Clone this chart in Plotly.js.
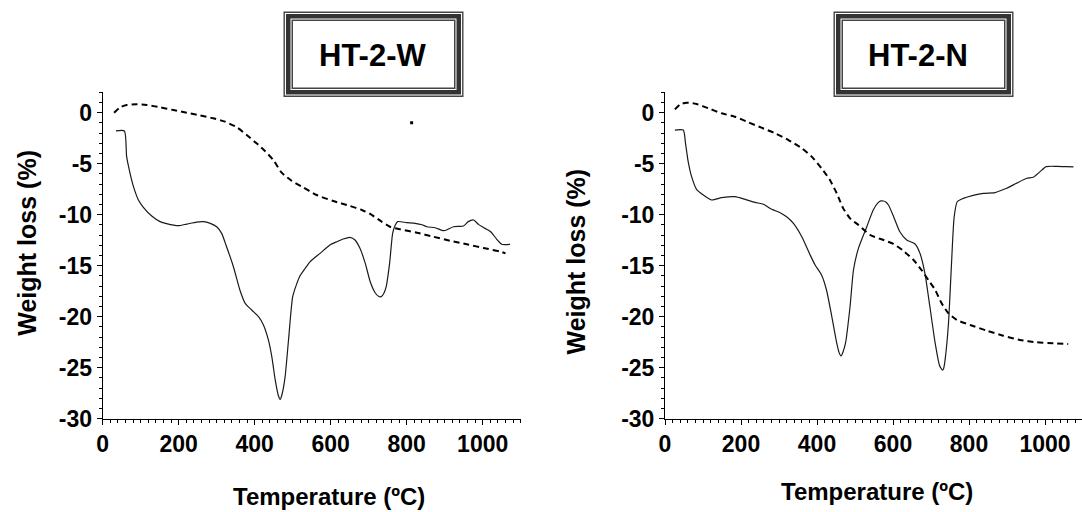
<!DOCTYPE html>
<html>
<head>
<meta charset="utf-8">
<script src="https://cdn.plot.ly/plotly-3.0.1.min.js"></script>
<style>html,body{margin:0;padding:0;background:#fff;}#chart{width:1082px;height:512px;}</style>
</head>
<body>
<div id="chart"></div>
<script>
// ---------- DATA ----------
// HT-2-W : solid curve
var tempW_solid = [35,57,63,72,81,94,107,129,151,168,199,221,247,265,283,300,313,326,344,361,375,392,410,423,436,445,454,462,467,472,480,489,500,511,519,533,546,572,598,616,633,651,664,677,691,704,717,726,733,740,746,755,763,770,776,800,822,840,853,875,897,905,923,949,962,976,989,1006,1021,1037,1050,1072];
var weightW_solid = [-1.79,-1.79,-4.31,-5.94,-7.25,-8.56,-9.28,-10.13,-10.68,-10.88,-11.08,-10.92,-10.72,-10.68,-10.85,-11.18,-11.83,-13.14,-15.1,-17.38,-18.69,-19.34,-20.0,-20.81,-22.28,-23.92,-26.2,-27.7,-28.1,-27.6,-25.9,-22.28,-18.04,-16.73,-16.01,-15.25,-14.6,-13.79,-12.97,-12.65,-12.38,-12.22,-12.48,-13.3,-14.77,-16.57,-17.65,-18.0,-18.04,-17.7,-17.06,-14.77,-11.83,-11.01,-10.68,-10.78,-10.85,-10.98,-11.18,-11.28,-11.57,-11.5,-11.18,-11.11,-10.68,-10.52,-10.95,-11.34,-11.67,-12.41,-12.9,-12.9];
// HT-2-W : dashed curve
var tempW_dash = [30,46,63,89,116,151,186,221,256,291,322,353,379,405,427,449,471,497,524,563,607,651,682,704,734,756,783,827,870,914,958,1002,1046,1060];
var weightW_dash = [0,0.53,0.75,0.82,0.75,0.53,0.26,0,-0.26,-0.55,-0.88,-1.43,-2.19,-3.0,-3.75,-4.64,-5.88,-6.67,-7.25,-8.07,-8.66,-9.15,-9.54,-9.93,-10.68,-11.18,-11.43,-11.76,-12.16,-12.55,-12.9,-13.26,-13.62,-13.79];
// HT-2-W : isolated point
var tempW_dot = [813];
var weightW_dot = [-0.98];

// HT-2-N : solid curve
var tempN_solid = [26,48,54,61,70,83,101,123,149,184,211,237,259,281,303,320,338,360,382,395,412,425,439,452,458,463,468,475,487,496,509,531,548,561,568,575,581,588,601,618,636,658,671,684,697,711,722,727,730,733,737,746,754,761,769,785,811,838,868,899,925,952,969,987,1003,1031,1057,1075];
var weightN_solid = [-1.70,-1.70,-3.0,-4.8,-6.27,-7.51,-8.07,-8.56,-8.33,-8.23,-8.5,-8.79,-8.98,-9.47,-9.8,-10.2,-10.85,-12.16,-13.95,-14.93,-15.91,-17.38,-20.0,-22.6,-23.5,-23.85,-23.5,-22.6,-19.0,-15.42,-13.3,-11.18,-9.54,-8.82,-8.65,-8.66,-8.75,-9.05,-10.13,-11.67,-12.48,-12.87,-13.79,-15.75,-19.0,-22.6,-24.73,-25.1,-25.23,-25.1,-24.25,-20.65,-14.77,-10.2,-8.73,-8.4,-8.1,-7.9,-7.83,-7.41,-6.92,-6.43,-6.33,-5.78,-5.29,-5.26,-5.29,-5.32];
// HT-2-N : dashed curve
var tempN_dash = [26,40,57,83,114,149,184,219,254,290,325,360,386,412,434,452,469,487,509,540,575,601,627,654,675,693,711,728,746,768,803,847,890,934,978,1022,1061];
var weightN_dash = [0.33,0.82,0.98,0.85,0.43,-0.06,-0.39,-0.94,-1.47,-2.02,-2.68,-3.49,-4.31,-5.45,-6.6,-7.9,-9.38,-10.36,-11.01,-11.99,-12.48,-12.87,-13.53,-14.44,-15.42,-16.4,-17.38,-18.69,-19.67,-20.32,-20.81,-21.37,-21.86,-22.28,-22.51,-22.61,-22.68];

// tick labels
var xTickVals = [0,200,400,600,800,1000];
var xTickText = ['0','200','400','600','800','1000'];
var yTickVals = [0,-5,-10,-15,-20,-25,-30];
var yTickText = ['0','-5','-10','-15','-20','-25','-30'];

var panelTitles = ['HT-2-W','HT-2-N'];
var xTitle = 'Temperature (ºC)';
var yTitle = 'Weight loss (%)';

// ---------- LAYOUT HELPERS ----------
var W = 1082, H = 512;
function px(x){ return x / W; }
function py(y){ return 1 - y / H; }
var FONT = 'Liberation Sans, Arial, Helvetica, sans-serif';

var solidLine = {color:'#1a1a1a', width:1.2, shape:'spline', smoothing:0.6};
var dashLine = {color:'#000', width:2, dash:'6px,4px', shape:'spline', smoothing:0.6};

var traces = [
  {x: tempW_solid, y: weightW_solid, xaxis:'x', yaxis:'y', mode:'lines', line: solidLine, hoverinfo:'skip'},
  {x: tempW_dash, y: weightW_dash, xaxis:'x', yaxis:'y', mode:'lines', line: dashLine, hoverinfo:'skip'},
  {x: tempW_dot, y: weightW_dot, xaxis:'x', yaxis:'y', mode:'markers', marker:{symbol:'square', size:3, color:'#000'}, hoverinfo:'skip'},
  {x: tempN_solid, y: weightN_solid, xaxis:'x2', yaxis:'y2', mode:'lines', line: solidLine, hoverinfo:'skip'},
  {x: tempN_dash, y: weightN_dash, xaxis:'x2', yaxis:'y2', mode:'lines', line: dashLine, hoverinfo:'skip'}
];

function xAxis(domain, range, anchor){
  return {
    domain: domain, range: range, anchor: anchor,
    tickmode:'array', tickvals: xTickVals, ticktext: xTickText,
    ticks:'outside', ticklen:5, tickwidth:1, tickcolor:'#000',
    minor:{tickmode:'linear', tick0:0, dtick:20, ticks:'outside', ticklen:3, tickwidth:1, tickcolor:'#000', showgrid:false},
    showline:true, linecolor:'#000', linewidth:1,
    showgrid:false, zeroline:false,
    tickfont:{family:FONT, size:23, color:'#000', weight:'bold'},
    fixedrange:true
  };
}
function yAxis(domain, anchor){
  return {
    domain: domain, range:[-30,2], anchor: anchor,
    tickmode:'array', tickvals: yTickVals, ticktext: yTickText,
    ticks:'outside', ticklen:5, tickwidth:1, tickcolor:'#000',
    minor:{tickmode:'linear', tick0:0, dtick:1, ticks:'outside', ticklen:3, tickwidth:1, tickcolor:'#000', showgrid:false},
    showline:true, linecolor:'#000', linewidth:1,
    showgrid:false, zeroline:false,
    tickfont:{family:FONT, size:23, color:'#000', weight:'bold'},
    fixedrange:true
  };
}

var yDom = [py(418.7), py(92.3)];

// framed title boxes
function boxShapes(x0, x1, y0, y1){
  var layers = [
    {inset:0.7, w:1.4, c:'#444'},
    {inset:4.75, w:4.5, c:'#333'},
    {inset:8.75, w:1.5, c:'#444'}
  ];
  return layers.map(function(L){
    return {type:'rect', xref:'paper', yref:'paper',
      x0: px(x0 + L.inset), x1: px(x1 - L.inset),
      y0: py(y1 - L.inset), y1: py(y0 + L.inset),
      line:{color:L.c, width:L.w}, fillcolor:'rgba(0,0,0,0)'};
  });
}
var shapes = [].concat(boxShapes(283.5, 463.5, 11.5, 97), boxShapes(833.5, 1013.5, 11.5, 97));

function ann(text, x, y, size, angle){
  return {text:text, xref:'paper', yref:'paper', x:px(x), y:py(y), xanchor:'center', yanchor:'middle',
    showarrow:false, textangle: angle||0, font:{family:FONT, size:size, color:'#000', weight:'bold'}};
}

var annotations = [
  ann(panelTitles[0], 372.5, 55, 31),
  ann(panelTitles[1], 918, 55, 31),
  ann(yTitle, 26.7, 243, 25, -90),
  ann(yTitle, 575.5, 262, 25, -90),
  ann(xTitle, 328.7, 496, 24),
  ann(xTitle, 877, 491, 24)
];

var layout = {
  width: W, height: H,
  margin:{l:0, r:0, t:0, b:0, pad:0},
  paper_bgcolor:'#fff', plot_bgcolor:'#fff',
  showlegend:false,
  xaxis: xAxis([px(102.7), px(520.7)], [0,1100], 'y'),
  yaxis: yAxis(yDom, 'x'),
  xaxis2: xAxis([px(665), 1], [0, (1082-665)/0.38], 'y2'),
  yaxis2: yAxis(yDom, 'x2'),
  shapes: shapes,
  annotations: annotations
};

Plotly.newPlot('chart', traces, layout, {staticPlot:true, displayModeBar:false});
</script>
</body>
</html>
